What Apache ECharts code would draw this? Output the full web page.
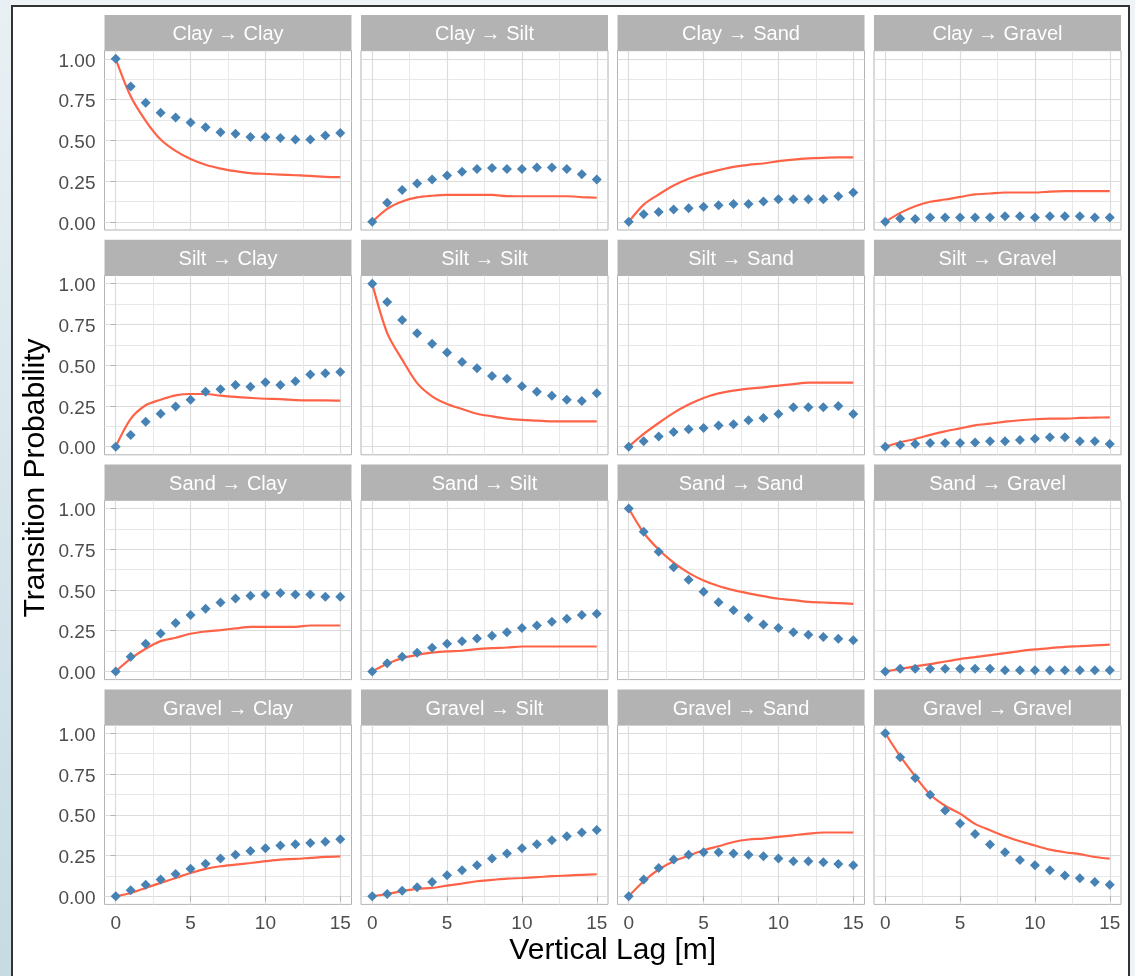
<!DOCTYPE html>
<html>
<head>
<meta charset="utf-8">
<script src="https://cdn.jsdelivr.net/npm/echarts@6/dist/echarts.min.js"></script>
<style>
html,body{margin:0;padding:0;width:1135px;height:976px;overflow:hidden;background:#eef3f6;}
#leftband{position:absolute;left:0;top:0;width:11px;height:976px;background:linear-gradient(to bottom,#e9f0f4,#c6dbe2);}
#frame{position:absolute;left:11px;top:5px;width:1115px;height:990px;background:#ffffff;border:2px solid #333333;border-bottom:none;}
#chart{position:absolute;left:0;top:0;width:1135px;height:976px;}
</style>
</head>
<body>
<div id="leftband"></div>
<div id="frame"></div>
<div id="chart"></div>
<script>
// ---------------- data ----------------
const classes = ['Clay', 'Silt', 'Sand', 'Gravel'];
const lags = [0, 1, 2, 3, 4, 5, 6, 7, 8, 9, 10, 11, 12, 13, 14, 15];
const xTicks = [0, 5, 10, 15];
const xMinorTicks = [2.5, 7.5, 12.5];
const yTicks = [0, 0.25, 0.5, 0.75, 1];
const yMinorTicks = [0.125, 0.375, 0.625, 0.875];
const xTitle = 'Vertical Lag [m]';
const yTitle = 'Transition Probability';

// empirical (points) and model (line) transition probabilities
const obsClayClay = [1.00, 0.83, 0.73, 0.67, 0.64, 0.61, 0.58, 0.55, 0.54, 0.52, 0.52, 0.515, 0.505, 0.505, 0.53, 0.545];
const modClayClay = [1.00, 0.77, 0.62, 0.505, 0.435, 0.385, 0.35, 0.327, 0.311, 0.299, 0.294, 0.29, 0.286, 0.282, 0.276, 0.274];
const obsClaySilt = [0, 0.117, 0.196, 0.235, 0.26, 0.284, 0.307, 0.325, 0.331, 0.325, 0.325, 0.333, 0.333, 0.325, 0.292, 0.26];
const modClaySilt = [0, 0.08, 0.125, 0.15, 0.16, 0.165, 0.165, 0.165, 0.165, 0.158, 0.157, 0.157, 0.157, 0.157, 0.152, 0.148];
const obsClaySand = [0, 0.047, 0.061, 0.076, 0.084, 0.092, 0.102, 0.11, 0.11, 0.125, 0.139, 0.139, 0.139, 0.139, 0.157, 0.18];
const modClaySand = [0, 0.106, 0.168, 0.223, 0.264, 0.294, 0.317, 0.337, 0.35, 0.358, 0.372, 0.382, 0.389, 0.393, 0.395, 0.395];
const obsClayGravel = [0, 0.02, 0.018, 0.027, 0.027, 0.027, 0.027, 0.027, 0.035, 0.035, 0.027, 0.035, 0.035, 0.035, 0.027, 0.027];
const modClayGravel = [0, 0.055, 0.096, 0.123, 0.137, 0.153, 0.168, 0.174, 0.18, 0.18, 0.18, 0.186, 0.188, 0.188, 0.188, 0.188];

const obsSiltClay = [0, 0.072, 0.153, 0.202, 0.247, 0.288, 0.337, 0.352, 0.378, 0.368, 0.395, 0.378, 0.401, 0.442, 0.45, 0.458];
const modSiltClay = [0, 0.17, 0.254, 0.288, 0.315, 0.323, 0.323, 0.313, 0.305, 0.299, 0.294, 0.292, 0.286, 0.284, 0.284, 0.282];
const obsSiltSilt = [1.00, 0.888, 0.777, 0.695, 0.632, 0.577, 0.519, 0.481, 0.434, 0.417, 0.37, 0.337, 0.313, 0.288, 0.28, 0.327];
const modSiltSilt = [1.00, 0.697, 0.534, 0.39, 0.309, 0.262, 0.231, 0.202, 0.186, 0.172, 0.164, 0.16, 0.155, 0.155, 0.155, 0.155];
const obsSiltSand = [0, 0.033, 0.063, 0.09, 0.106, 0.115, 0.129, 0.137, 0.162, 0.176, 0.2, 0.241, 0.241, 0.241, 0.249, 0.2];
const modSiltSand = [0, 0.078, 0.145, 0.207, 0.258, 0.299, 0.327, 0.344, 0.356, 0.364, 0.374, 0.384, 0.393, 0.393, 0.393, 0.393];
const obsSiltGravel = [0, 0.01, 0.016, 0.022, 0.022, 0.022, 0.025, 0.033, 0.033, 0.041, 0.049, 0.057, 0.057, 0.033, 0.033, 0.016];
const modSiltGravel = [0, 0.027, 0.047, 0.072, 0.094, 0.112, 0.131, 0.141, 0.153, 0.162, 0.168, 0.172, 0.172, 0.176, 0.178, 0.18];

const obsSandClay = [0, 0.09, 0.17, 0.233, 0.297, 0.346, 0.384, 0.423, 0.448, 0.464, 0.472, 0.481, 0.472, 0.472, 0.458, 0.458];
const modSandClay = [0, 0.078, 0.139, 0.186, 0.207, 0.231, 0.245, 0.254, 0.264, 0.274, 0.274, 0.274, 0.274, 0.282, 0.282, 0.282];
const obsSandSilt = [0, 0.051, 0.09, 0.115, 0.145, 0.17, 0.186, 0.202, 0.219, 0.241, 0.266, 0.282, 0.305, 0.323, 0.346, 0.354];
const modSandSilt = [0, 0.047, 0.082, 0.102, 0.115, 0.123, 0.127, 0.137, 0.143, 0.147, 0.153, 0.153, 0.153, 0.153, 0.153, 0.153];
const obsSandSand = [1.00, 0.857, 0.734, 0.64, 0.562, 0.489, 0.425, 0.376, 0.329, 0.288, 0.266, 0.241, 0.225, 0.211, 0.2, 0.192];
const modSandSand = [1.00, 0.851, 0.748, 0.667, 0.605, 0.558, 0.524, 0.499, 0.479, 0.462, 0.446, 0.438, 0.427, 0.423, 0.419, 0.415];
const obsSandGravel = [0, 0.016, 0.016, 0.016, 0.016, 0.016, 0.016, 0.016, 0.008, 0.008, 0.008, 0.008, 0.008, 0.008, 0.008, 0.008];
const modSandGravel = [0, 0.016, 0.031, 0.045, 0.061, 0.076, 0.088, 0.1, 0.112, 0.125, 0.135, 0.143, 0.151, 0.155, 0.16, 0.164];

const obsGravelClay = [0, 0.037, 0.07, 0.102, 0.137, 0.168, 0.2, 0.231, 0.254, 0.278, 0.294, 0.311, 0.319, 0.327, 0.335, 0.35];
const modGravelClay = [0, 0.02, 0.051, 0.082, 0.112, 0.143, 0.168, 0.184, 0.194, 0.204, 0.215, 0.225, 0.229, 0.235, 0.241, 0.245];
const obsGravelSilt = [0, 0.014, 0.033, 0.055, 0.088, 0.129, 0.16, 0.19, 0.231, 0.262, 0.294, 0.319, 0.344, 0.368, 0.391, 0.407];
const modGravelSilt = [0, 0.014, 0.031, 0.045, 0.051, 0.065, 0.078, 0.092, 0.1, 0.108, 0.112, 0.117, 0.123, 0.127, 0.131, 0.135];
const obsGravelSand = [0, 0.102, 0.174, 0.225, 0.254, 0.27, 0.27, 0.262, 0.254, 0.245, 0.231, 0.215, 0.215, 0.209, 0.198, 0.19];
const modGravelSand = [0, 0.092, 0.164, 0.215, 0.249, 0.282, 0.307, 0.333, 0.348, 0.354, 0.364, 0.374, 0.384, 0.391, 0.391, 0.391];
const obsGravelGravel = [1.00, 0.853, 0.726, 0.622, 0.526, 0.446, 0.382, 0.317, 0.27, 0.223, 0.19, 0.16, 0.127, 0.11, 0.088, 0.07];
const modGravelGravel = [1.00, 0.859, 0.736, 0.624, 0.555, 0.507, 0.444, 0.405, 0.368, 0.337, 0.311, 0.286, 0.27, 0.258, 0.241, 0.231];

const observed = [
  [obsClayClay, obsClaySilt, obsClaySand, obsClayGravel],
  [obsSiltClay, obsSiltSilt, obsSiltSand, obsSiltGravel],
  [obsSandClay, obsSandSilt, obsSandSand, obsSandGravel],
  [obsGravelClay, obsGravelSilt, obsGravelSand, obsGravelGravel]
];
const modelled = [
  [modClayClay, modClaySilt, modClaySand, modClayGravel],
  [modSiltClay, modSiltSilt, modSiltSand, modSiltGravel],
  [modSandClay, modSandSilt, modSandSand, modSandGravel],
  [modGravelClay, modGravelSilt, modGravelSand, modGravelGravel]
];

// ---------------- layout ----------------
const FONT = '"Liberation Sans", Arial, sans-serif';
const PANEL_W = 247, PANEL_H = 179.3, STRIP_H = 35.7;
const colLeft = c => 104.5 + 256.5 * c;
const rowTop = r => 50.7 + 224.8 * r;

const grids = [], xAxes = [], yAxes = [], series = [], graphics = [];
for (let r = 0; r < 4; r++) {
  for (let c = 0; c < 4; c++) {
    const p = r * 4 + c;
    grids.push({
      left: colLeft(c), top: rowTop(r), width: PANEL_W, height: PANEL_H,
      show: true, backgroundColor: '#ffffff', borderColor: '#b3b3b3', borderWidth: 1
    });
    xAxes.push({
      gridIndex: p, type: 'value', min: -0.75, max: 15.75, position: 'bottom',
      axisLine: { show: false },
      axisTick: { show: r === 3, length: 5, customValues: xTicks, lineStyle: { color: '#b3b3b3', width: 1 } },
      axisLabel: { show: r === 3, customValues: xTicks, color: '#4d4d4d', fontSize: 19, fontFamily: FONT, margin: 10 },
      splitLine: { show: true, lineStyle: { color: '#dcdcdc', width: 1.2 } }
    });
    xAxes.push({
      gridIndex: p, type: 'value', min: -0.75, max: 15.75, position: 'top',
      axisLine: { show: false },
      axisTick: { show: false, customValues: xMinorTicks },
      axisLabel: { show: false, customValues: xMinorTicks },
      splitLine: { show: true, lineStyle: { color: '#e8e8e8', width: 1 } }
    });
    yAxes.push({
      gridIndex: p, type: 'value', min: -0.05, max: 1.05, position: 'left',
      axisLine: { show: false },
      axisTick: { show: c === 0, length: 5, customValues: yTicks, lineStyle: { color: '#b3b3b3', width: 1 } },
      axisLabel: { show: c === 0, customValues: yTicks, color: '#4d4d4d', fontSize: 19, fontFamily: FONT, margin: 9,
        formatter: v => '{v|' + v.toFixed(2) + '}',
        rich: { v: { color: '#4d4d4d', fontSize: 19, fontFamily: FONT, padding: [5, 0, 0, 0] } } },
      splitLine: { show: true, lineStyle: { color: '#dcdcdc', width: 1.2 } }
    });
    yAxes.push({
      gridIndex: p, type: 'value', min: -0.05, max: 1.05, position: 'right',
      axisLine: { show: false },
      axisTick: { show: false, customValues: yMinorTicks },
      axisLabel: { show: false, customValues: yMinorTicks },
      splitLine: { show: true, lineStyle: { color: '#e8e8e8', width: 1 } }
    });
    series.push({
      type: 'line', xAxisIndex: 2 * p, yAxisIndex: 2 * p,
      data: lags.map((x, i) => [x, modelled[r][c][i]]),
      symbol: 'none', smooth: 0.3, silent: true, z: 3,
      lineStyle: { color: '#ff6347', width: 2.2 }
    });
    series.push({
      type: 'scatter', xAxisIndex: 2 * p, yAxisIndex: 2 * p,
      data: lags.map((x, i) => [x, observed[r][c][i]]),
      symbol: 'diamond', symbolSize: 10, silent: true, z: 4,
      itemStyle: { color: '#4682b4', opacity: 1 }
    });
    graphics.push({
      type: 'rect', silent: true,
      shape: { x: colLeft(c), y: rowTop(r) - STRIP_H, width: PANEL_W, height: STRIP_H },
      style: { fill: '#b3b3b3' }
    });
    graphics.push({
      type: 'text', silent: true,
      x: colLeft(c) + PANEL_W / 2, y: rowTop(r) - STRIP_H / 2 + 2,
      style: { text: classes[r] + ' \u2192 ' + classes[c], fill: '#ffffff', fontSize: 20, fontFamily: FONT,
        textAlign: 'center', textVerticalAlign: 'middle' }
    });
  }
}
graphics.push({
  type: 'text', silent: true, x: (colLeft(0) + colLeft(3) + PANEL_W) / 2, y: 951,
  style: { text: xTitle, fill: '#000000', fontSize: 30, fontFamily: FONT, textAlign: 'center', textVerticalAlign: 'middle' }
});
graphics.push({
  type: 'text', silent: true, x: 36, y: 478, rotation: Math.PI / 2,
  style: { text: yTitle, fill: '#000000', fontSize: 30, fontFamily: FONT, textAlign: 'center', textVerticalAlign: 'middle' }
});

const chart = echarts.init(document.getElementById('chart'), null, { renderer: 'canvas' });
chart.setOption({
  animation: false,
  backgroundColor: 'transparent',
  grid: grids,
  xAxis: xAxes,
  yAxis: yAxes,
  series: series,
  graphic: graphics
});
</script>
</body>
</html>
